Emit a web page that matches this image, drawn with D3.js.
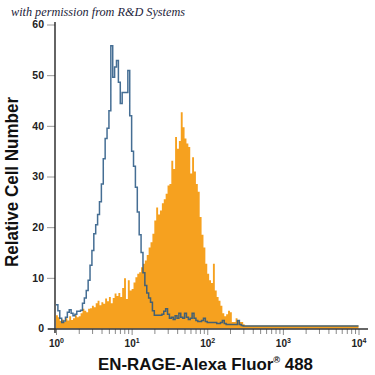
<!DOCTYPE html>
<html>
<head>
<meta charset="utf-8">
<script src="https://cdn.jsdelivr.net/npm/d3@7/dist/d3.min.js"></script>
<style>
body { margin: 0; background: #fff; }
</style>
</head>
<body>
<script>
// Largeur d'un canal en décades (axe log).
var pasDecade = 0.025;

// Contrôle isotype (ligne bleue), un nombre par canal.
var controle = [
  4.7, 3.5, 2.0, 1.2, 1.5, 2.2, 3.2, 3.7, 3.0, 2.5,
  2.8, 3.4, 3.4, 3.6, 5.0, 6.0, 7.5, 9.5, 12.5, 15.4,
  18.7, 20.5, 22.5, 25.0, 28.5, 33.5, 37.5, 39.5, 43.0, 55.8,
  49.6, 51.6, 52.9, 48.6, 44.4, 46.6, 46.6, 46.6, 50.9, 42.0,
  35.0, 32.0, 27.9, 23.0, 18.5, 15.0, 11.0, 8.5, 7.0, 6.0,
  5.2, 3.5, 2.6, 2.6, 2.6, 2.6, 2.8, 3.4, 3.9, 2.8,
  2.0, 2.2, 1.8, 2.5, 2.0, 3.0, 2.2, 2.0, 3.0, 2.2,
  1.8, 2.0, 3.0, 2.0, 1.6, 1.4, 1.4, 1.6, 2.0, 1.4,
  1.2, 1.2, 1.2, 1.2, 1.2, 1.0, 1.0, 1.2, 1.6, 1.0,
  0.8, 0.8, 0.8, 0.8, 0.8, 0.8, 1.6, 0.8, 0.6, 0.5,
  0.5, 0.5, 0.5, 0.5, 0.5, 0.5, 0.5, 0.5, 0.5, 0.5,
  0.5, 0.5, 0.5, 0.5, 0.5, 0.5, 0.5, 0.5, 0.5, 0.5,
  0.5, 0.5, 0.5, 0.5, 0.5, 0.5, 0.5, 0.5, 0.5, 0.5,
  0.5, 0.5, 0.5, 0.5, 0.5, 0.5, 0.5, 0.5, 0.5, 0.5,
  0.5, 0.5, 0.5, 0.5, 0.5, 0.5, 0.5, 0.5, 0.5, 0.5,
  0.5, 0.5, 0.5, 0.5, 0.5, 0.5, 0.5, 0.5, 0.5, 0.5
];

// Cellules marquées EN-RAGE (aire orange).
var marque = [
  2.6, 2.2, 1.5, 1.8, 1.3, 2.0, 1.6, 2.4, 1.7, 2.0,
  2.6, 2.2, 2.4, 3.0, 3.9, 3.5, 3.2, 3.9, 4.0, 4.5,
  4.2, 5.0, 5.5, 4.6, 5.2, 4.9, 5.9, 5.4, 6.2, 5.0,
  6.0, 6.9, 6.4, 7.0, 6.2, 8.0, 9.9, 5.8, 9.5, 7.5,
  7.8, 9.1, 10.1, 10.8, 11.1, 12.1, 12.8, 13.4, 14.5, 16.0,
  17.0, 18.7, 21.3, 23.9, 22.5, 23.3, 24.7, 25.5, 26.6, 28.2,
  28.5, 33.1, 31.5, 37.8, 35.5, 37.0, 42.7, 39.7, 37.5, 36.5,
  35.8, 30.6, 33.8, 31.0, 28.5, 27.0, 22.0, 18.5, 16.0, 12.8,
  10.8, 9.5, 9.0, 12.8, 7.5, 6.2, 5.5, 4.5, 3.0, 2.4,
  2.8, 3.5, 3.2, 1.3, 1.3, 2.0, 1.6, 1.3, 1.3, 0.8,
  0.6, 0.6, 0.6, 0.6, 0.6, 0.6, 0.6, 0.6, 0.6, 0.6,
  0.6, 0.6, 0.6, 0.6, 0.6, 0.6, 0.6, 0.6, 0.6, 0.6,
  0.6, 0.6, 0.6, 0.6, 0.6, 0.6, 0.6, 0.6, 0.6, 0.6,
  0.6, 0.6, 0.6, 0.6, 0.6, 0.6, 0.6, 0.6, 0.6, 0.6,
  0.6, 0.6, 0.6, 0.6, 0.6, 0.6, 0.6, 0.6, 0.6, 0.6,
  0.6, 0.6, 0.6, 0.6, 0.6, 0.6, 0.6, 0.6, 0.6, 0.6
];

// Graduations.
var ticksY = [0, 10, 20, 30, 40, 50, 60];
var decades = [1, 10, 100, 1000, 10000];
var exposants = ["0", "1", "2", "3", "4"];

var police = "'Liberation Sans', Arial, sans-serif";

// Transforme un histogramme en points (bord gauche du canal, valeur).
function enMarches(valeurs) {
    var pts = valeurs.map(function (v, i) { return [Math.pow(10, i * pasDecade), v]; });
    pts.push([Math.pow(10, valeurs.length * pasDecade), valeurs[valeurs.length - 1]]);
    return pts;
}

function dessiner() {
    var svg = d3.select("body")
        .append("svg")
        .attr("width", 375)
        .attr("height", 375);

    var x = d3.scaleLog().domain([1, 10000]).range([56, 358.5]);
    var y = d3.scaleLinear().domain([0, 60]).range([328.5, 24.5]);

    // Aire orange
    var aire = d3.area()
        .x(function (d) { return x(d[0]); })
        .y0(y(0))
        .y1(function (d) { return y(d[1]); })
        .curve(d3.curveStepAfter);

    svg.append("path")
        .datum(enMarches(marque))
        .attr("d", aire)
        .attr("fill", "#f6a11f");

    // Ligne bleue du contrôle
    var ligne = d3.line()
        .x(function (d) { return x(d[0]); })
        .y(function (d) { return y(d[1]); })
        .curve(d3.curveStepAfter);

    svg.append("path")
        .datum(enMarches(controle))
        .attr("d", ligne)
        .attr("fill", "none")
        .attr("stroke", "#245581")
        .attr("stroke-width", 1.5)
        .attr("stroke-opacity", 0.85);

    // Axe des y
    var axeY = svg.append("g")
        .attr("transform", "translate(55,0)")
        .call(d3.axisLeft(y).tickValues(ticksY).tickSize(8).tickPadding(3));
    axeY.select(".domain").remove();
    axeY.selectAll(".tick line").attr("stroke", "#9a9a9a");
    axeY.selectAll(".tick text")
        .attr("font-family", police)
        .attr("font-weight", "bold")
        .attr("font-size", 10.5)
        .attr("fill", "#222");

    svg.append("line")
        .attr("x1", 55).attr("x2", 55)
        .attr("y1", 22).attr("y2", 333)
        .attr("stroke", "#111").attr("stroke-width", 1.3);

    // Axe des x : graduations mineures
    var mineures = [];
    decades.slice(0, 4).forEach(function (d) {
        for (var k = 2; k < 10; k++) mineures.push(d * k);
    });
    var axeMin = svg.append("g")
        .attr("transform", "translate(0,329)")
        .call(d3.axisBottom(x).tickValues(mineures).tickSize(5).tickFormat(""));
    axeMin.select(".domain").remove();
    axeMin.selectAll(".tick line").attr("stroke", "#8a8a8a");

    // Axe des x : décades
    var axeX = svg.append("g")
        .attr("transform", "translate(0,329)")
        .call(d3.axisBottom(x).tickValues(decades).tickSize(6).tickFormat(""));
    axeX.select(".domain").remove();
    axeX.selectAll(".tick line").attr("stroke", "#8a8a8a");
    axeX.selectAll(".tick text")
        .attr("y", 11)
        .attr("font-family", police)
        .attr("font-weight", "bold")
        .attr("font-size", 10)
        .attr("fill", "#222")
        .each(function (d, i) {
            var t = d3.select(this);
            t.append("tspan").text("10");
            t.append("tspan").attr("font-size", 7).attr("dy", -4).text(exposants[i]);
        });

    svg.append("line")
        .attr("x1", 48).attr("x2", 368)
        .attr("y1", 329).attr("y2", 329)
        .attr("stroke", "#333").attr("stroke-width", 1.3);

    // Titres
    var titreX = svg.append("text")
        .attr("x", 98).attr("y", 370)
        .attr("font-family", police)
        .attr("font-weight", "bold")
        .attr("font-size", 16.5)
        .attr("fill", "#111")
        .attr("textLength", 215)
        .attr("lengthAdjust", "spacingAndGlyphs");
    titreX.append("tspan").text("EN-RAGE-Alexa Fluor");
    titreX.append("tspan").attr("font-size", 9).attr("dy", -7).text("®");
    titreX.append("tspan").attr("dy", 7).text(" 488");

    svg.append("text")
        .attr("transform", "translate(18,267) rotate(-90)")
        .attr("font-family", police)
        .attr("font-weight", "bold")
        .attr("font-size", 18)
        .attr("fill", "#111")
        .attr("textLength", 170)
        .attr("lengthAdjust", "spacingAndGlyphs")
        .text("Relative Cell Number");

    svg.append("text")
        .attr("x", 11).attr("y", 16)
        .attr("font-family", "'Liberation Serif', 'DejaVu Serif', serif")
        .attr("font-style", "italic")
        .attr("font-size", 12.5)
        .attr("fill", "#1c1c3a")
        .attr("textLength", 174)
        .attr("lengthAdjust", "spacingAndGlyphs")
        .text("with permission from R&D Systems");
}

d3.select(window).on("load", dessiner);
</script>
</body>
</html>
